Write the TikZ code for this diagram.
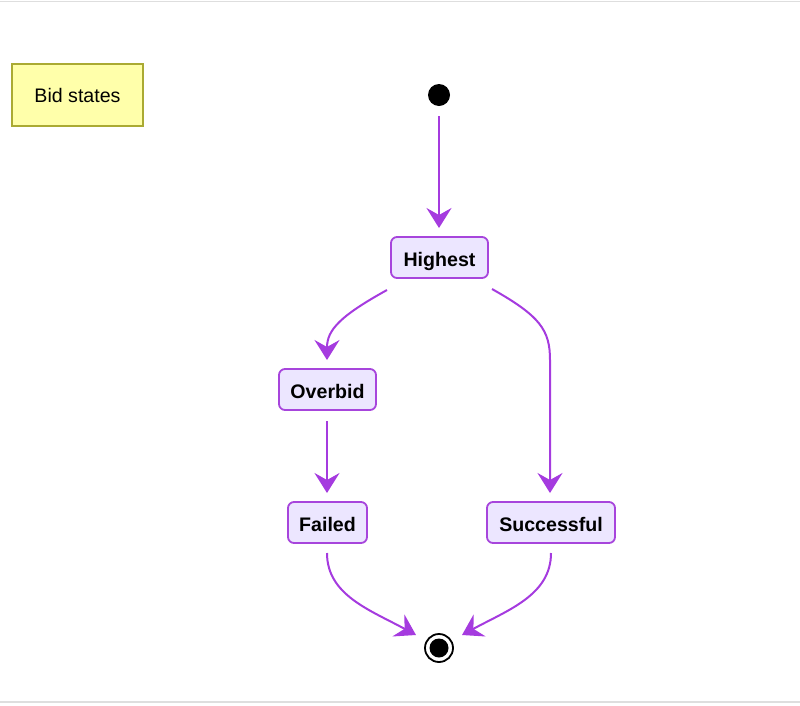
\documentclass[tikz,border=0pt]{standalone}
\usepackage{fontspec}
\setmainfont{Liberation Sans}
\usetikzlibrary{arrows.meta}
\definecolor{stborder}{HTML}{A745DC}
\definecolor{stfill}{HTML}{ECE6FF}
\definecolor{edgec}{HTML}{A53BDF}
\definecolor{notefill}{HTML}{FFFFAA}
\definecolor{noteborder}{HTML}{AAAA33}
\begin{document}
\begin{tikzpicture}[x=1pt,y=-1pt,
  statebox/.style={draw=stborder,fill=stfill,line width=1.8pt,rounded corners=6pt,
    minimum height=41pt,inner xsep=10pt,text height=17pt,text depth=0pt,font=\fontsize{19.6}{22}\selectfont\bfseries},
  notebox/.style={draw=noteborder,fill=notefill,line width=1.8pt,
    minimum width=131pt,minimum height=62pt,font=\fontsize{19.6}{22}\selectfont},
  edge/.style={draw=edgec,line width=2pt,-{Stealth[length=20pt,width=25pt,inset=7pt]}}]
\useasboundingbox (0,0) rectangle (800,705);
\draw[draw=black!13,line width=1.2pt] (0,1.5) -- (800,1.5);
\draw[draw=black!13,line width=1.2pt] (0,702) -- (800,702);

\node[notebox] (note) at (77.5,95) {Bid states};

\node[circle,fill=black,inner sep=0pt,minimum size=22pt] (start) at (439,95) {};
\node[statebox,minimum width=97pt] (high) at (439.5,257.5) {Highest};
\node[statebox,minimum width=97pt] (over) at (327.5,389.5) {Overbid};
\node[statebox,minimum width=79pt] (fail) at (327.5,522.5) {Failed};
\node[statebox,minimum width=128pt] (succ) at (551,522.5) {Successful};
\node[circle,draw=black,line width=1.8pt,fill=white,inner sep=0pt,minimum size=28pt] (stop) at (439,648) {};
\node[circle,fill=black,inner sep=0pt,minimum size=19pt] at (stop) {};

\coordinate (s1) at (439,116);
\coordinate (s2) at (439,228);
\draw[edge] (s1) -- (s2);

\coordinate (h1) at (387,290);
\coordinate (o1) at (327,360);
\draw[edge] (h1) .. controls (340,316) and (327,330) .. (o1);

\coordinate (h2) at (492,289);
\coordinate (m2) at (550,360);
\coordinate (u1) at (550,493);
\draw[edge] (h2) .. controls (540,316) and (550,330) .. (m2) -- (u1);

\coordinate (o2) at (327,421);
\coordinate (f1) at (327,493);
\draw[edge] (o2) -- (f1);

\coordinate (f2) at (327,553);
\coordinate (e1) at (416,635);
\draw[edge] (f2) .. controls (327,595) and (370,610) .. (e1);

\coordinate (u2) at (551,553);
\coordinate (e2) at (462,635);
\draw[edge] (u2) .. controls (551,595) and (508,610) .. (e2);
\end{tikzpicture}
\end{document}
